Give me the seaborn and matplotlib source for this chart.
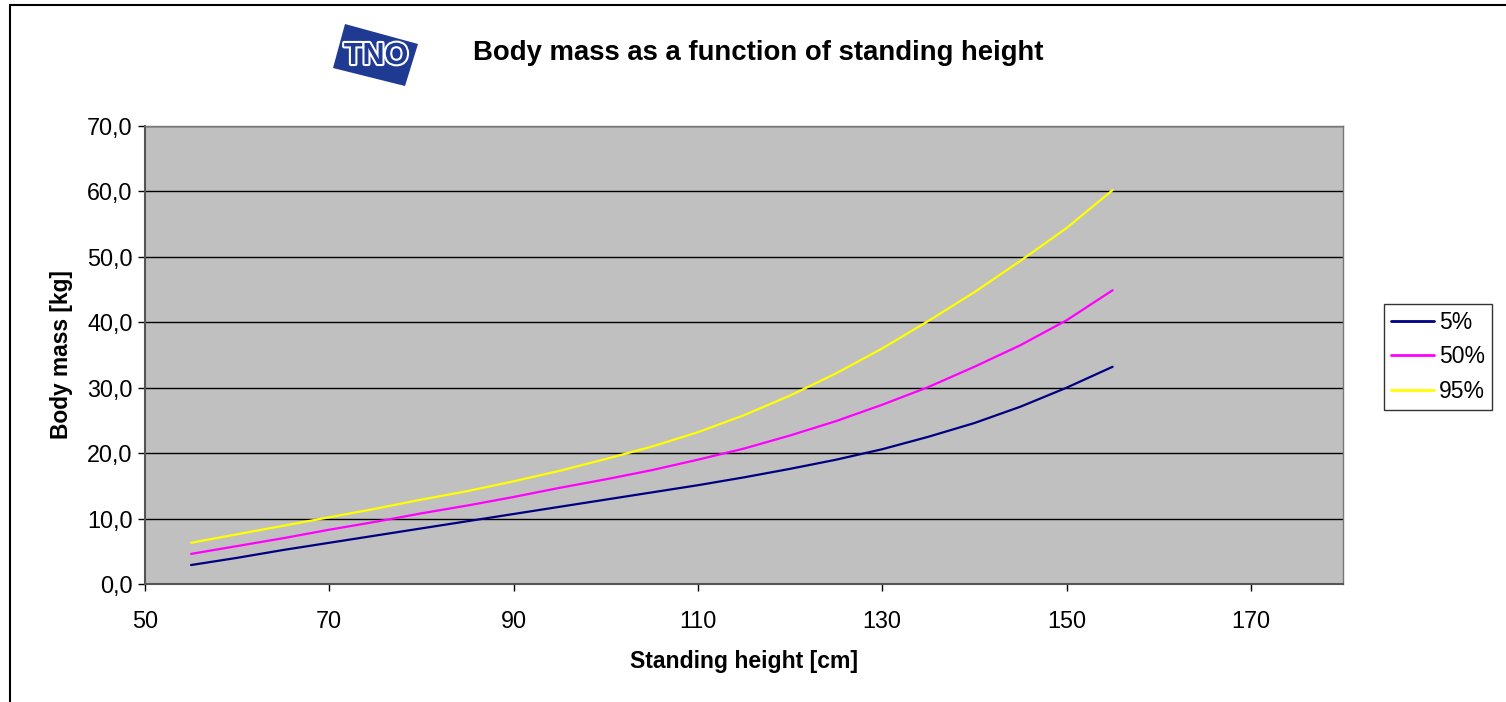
import numpy as np
import pandas as pd
import matplotlib
matplotlib.use("Agg")
import matplotlib.pyplot as plt
import matplotlib.patheffects as pe
from matplotlib.patches import Polygon
from matplotlib.lines import Line2D
import seaborn as sns

# Data
height_cm = [55, 60, 65, 70, 75, 80, 85, 90, 95, 100, 105,
             110, 115, 120, 125, 130, 135, 140, 145, 150, 155]
mass_p5 = [2.9, 4.0, 5.2, 6.3, 7.4, 8.5, 9.6, 10.7, 11.8, 12.9, 14.0,
           15.1, 16.3, 17.6, 19.0, 20.6, 22.5, 24.6, 27.1, 30.0, 33.2]
mass_p50 = [4.6, 5.8, 7.0, 8.3, 9.5, 10.8, 12.0, 13.3, 14.7, 16.0, 17.4,
            19.0, 20.7, 22.7, 24.9, 27.4, 30.1, 33.2, 36.5, 40.3, 44.9]
mass_p95 = [6.3, 7.6, 8.9, 10.2, 11.5, 12.9, 14.2, 15.7, 17.3, 19.1, 21.0,
            23.2, 25.8, 28.8, 32.2, 36.0, 40.2, 44.6, 49.4, 54.4, 60.2]
series_names = ["5%", "50%", "95%"]
series_colors = ["#000080", "#FF00FF", "#FFFF00"]
x_ticks = [50, 70, 90, 110, 130, 150, 170]
y_ticks = [0, 10, 20, 30, 40, 50, 60, 70]

df = pd.DataFrame({
    "height": height_cm * 3,
    "mass": mass_p5 + mass_p50 + mass_p95,
    "pct": [n for n in series_names for _ in height_cm],
})

sns.set_style("white")
plt.rcParams["font.family"] = ["Liberation Sans", "DejaVu Sans"]
plt.rcParams["text.color"] = "black"
plt.rcParams["axes.labelcolor"] = "black"

fig = plt.figure(figsize=(15.06, 7.02), dpi=100)
ax = fig.add_axes([145 / 1506, 1 - 584 / 702, 1198 / 1506, 458 / 702])
ax.set_facecolor("#C0C0C0")

sns.lineplot(data=df, x="height", y="mass", hue="pct", hue_order=series_names,
             palette=series_colors, linewidth=1.6, legend=False, ax=ax, zorder=3)

ax.set_xlim(50, 180)
ax.set_ylim(0, 70)
ax.set_xticks(x_ticks)
ax.set_yticks(y_ticks)
ax.set_yticklabels([f"{v:.1f}".replace(".", ",") for v in y_ticks])
ax.tick_params(axis="both", labelsize=16.8, length=5, width=1, direction="out",
               colors="black", left=True, bottom=True)
ax.tick_params(axis="x", pad=14)
ax.tick_params(axis="y", pad=4)
ax.yaxis.grid(True, color="black", linewidth=1)
ax.set_axisbelow(True)
for side in ["left", "bottom"]:
    ax.spines[side].set_color("#555555")
    ax.spines[side].set_linewidth(1.5)
for side in ["top", "right"]:
    ax.spines[side].set_color("#777777")
    ax.spines[side].set_linewidth(1)

ax.set_xlabel("Standing height [cm]", fontsize=16.6, fontweight="bold", labelpad=12)
ax.set_ylabel("Body mass [kg]", fontsize=16.4, fontweight="bold", labelpad=10)

# legend box on the right
handles = [Line2D([0], [0], color=c, linewidth=2) for c in series_colors]
leg = fig.legend(handles, series_names, loc="center left",
                 bbox_to_anchor=(1384 / 1506, 1 - 357 / 702), fontsize=16.5,
                 frameon=True, fancybox=False, edgecolor="black",
                 handlelength=1.9, handletextpad=0.2, borderpad=0.3,
                 labelspacing=0.5, borderaxespad=0)
leg.get_frame().set_linewidth(1)

# title
fig.text(473 / 1506, 1 - 53 / 702, "Body mass as a function of standing height",
         fontsize=19.8, fontweight="bold", ha="left", va="center")

# rough TNO logo
logo = Polygon([[345 / 1506, 1 - 24 / 702], [418 / 1506, 1 - 44 / 702],
                [405 / 1506, 1 - 86 / 702], [333 / 1506, 1 - 68 / 702]],
               closed=True, transform=fig.transFigure, facecolor="#1F3A93",
               edgecolor="none")
fig.patches.append(logo)
fig.text(376 / 1506, 1 - 56 / 702, "TNO", fontsize=22, fontweight="bold",
         color="#1F3A93", ha="center", va="center",
         path_effects=[pe.withStroke(linewidth=3, foreground="white")])

# chart border (top and left only)
fig.add_artist(Line2D([10 / 1506, 1], [1 - 5 / 702, 1 - 5 / 702],
                      transform=fig.transFigure, color="black", linewidth=1.5))
fig.add_artist(Line2D([10 / 1506, 10 / 1506], [0, 1 - 5 / 702],
                      transform=fig.transFigure, color="black", linewidth=1.5))

fig.savefig("out.png", dpi=100, facecolor="white")
